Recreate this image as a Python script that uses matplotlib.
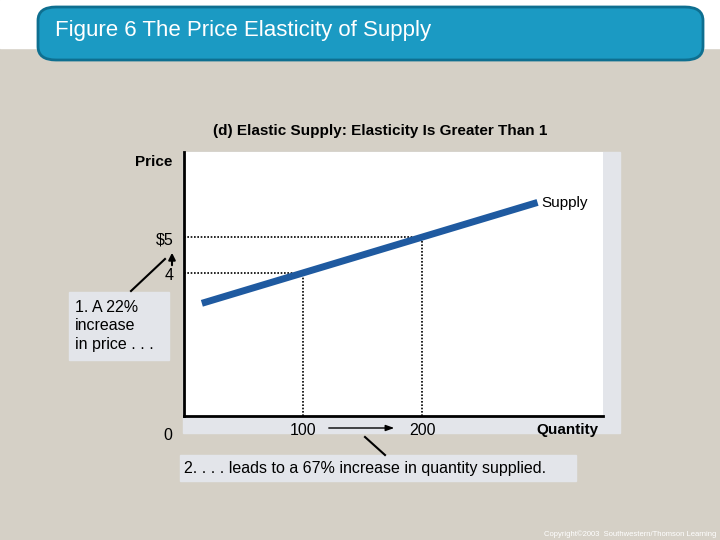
import matplotlib
matplotlib.use("Agg")
import matplotlib.pyplot as plt
from matplotlib.patches import FancyBboxPatch, Rectangle, FancyArrowPatch
from matplotlib.lines import Line2D

supply_q = [15, 100, 200, 297]
supply_p = [3.15, 4, 5, 5.97]
mark_q = [100, 200]
mark_p = [4, 5]
xtick_labels = ["100", "200"]
ytick_labels = ["4", "$5"]

plt.rcParams['font.family'] = ['Liberation Sans', 'DejaVu Sans']
W, H = 720, 540
fig = plt.figure(figsize=(7.2, 5.4), dpi=100)
fig.patch.set_facecolor('#d5d0c6')

def fx(x): return x / W
def fy(y): return 1 - y / H

# top white band
fig.patches.append(Rectangle((0, fy(48)), 1, 1 - fy(48), transform=fig.transFigure, color='white', zorder=-2))
# title bar
fig.patches.append(FancyBboxPatch((fx(38), fy(60)), fx(665), fy(7) - fy(60),
    boxstyle="round,pad=0,rounding_size=0.025", transform=fig.transFigure,
    facecolor='#1b9ac3', edgecolor='#0e6f90', linewidth=2, zorder=-1))
fig.text(fx(55), fy(31), "Figure 6 The Price Elasticity of Supply", color='white',
         fontsize=16, va='center', ha='left', zorder=2)

# plot panel backgrounds
fig.patches.append(Rectangle((fx(183), fy(433)), fx(437), fy(152) - fy(433),
    transform=fig.transFigure, color='#e3e5ea', zorder=-1))
ax = fig.add_axes([fx(184), fy(416), fx(603) - fx(184), fy(152) - fy(416)])
ax.set_zorder(3)
ax.set_facecolor('white')
ax.set_xlim(0, 352)
ax.set_ylim(0, 7.38)
for s in ['top', 'right']:
    ax.spines[s].set_visible(False)
for s in ['left', 'bottom']:
    ax.spines[s].set_linewidth(2)
ax.set_xticks([]); ax.set_yticks([])

ax.plot(supply_q, supply_p, color='#1f5aa0', linewidth=5, solid_capstyle='butt', zorder=3)
for q, p in zip(mark_q, mark_p):
    ax.plot([0, q], [p, p], color='black', linestyle=(0, (1, 1)), linewidth=1.2, zorder=2)
    ax.plot([q, q], [0, p], color='black', linestyle=(0, (1, 1)), linewidth=1.2, zorder=2)
for q, lab in zip(mark_q, xtick_labels):
    ax.text(q, -0.4, lab, ha='center', va='center', fontsize=11.5, clip_on=False)
for p, lab in zip(mark_p, ytick_labels):
    ax.text(-9, p - 0.07, lab, ha='right', va='center', fontsize=11.5, clip_on=False)
ax.text(-10, -0.55, "0", ha='right', va='center', fontsize=11.5, clip_on=False)
ax.text(348, -0.4, "Quantity", ha='right', va='center', fontsize=11, fontweight='bold', clip_on=False)
ax.text(-10, 7.1, "Price", ha='right', va='center', fontsize=11, fontweight='bold', clip_on=False)
ax.text(300, 5.95, "Supply", ha='left', va='center', fontsize=11)
ax.text(165, 7.98, "(d) Elastic Supply: Elasticity Is Greater Than 1", ha='center', va='center',
        fontsize=11, fontweight='bold', clip_on=False)

# annotation boxes
fig.patches.append(Rectangle((fx(69), fy(360)), fx(100), fy(292) - fy(360),
    transform=fig.transFigure, color='#e3e5ea', zorder=1))
fig.text(fx(75), fy(326), "1. A 22%\nincrease\nin price . . .", fontsize=11.5, va='center',
         ha='left', linespacing=1.3, zorder=2)
fig.patches.append(Rectangle((fx(180), fy(481)), fx(396), fy(455) - fy(481),
    transform=fig.transFigure, color='#e3e5ea', zorder=1))
fig.text(fx(184), fy(468), "2. . . . leads to a 67% increase in quantity supplied.", fontsize=11.5,
         va='center', ha='left', zorder=2)

# connector lines & arrows
fig.lines.append(Line2D([fx(131), fx(165)], [fy(291), fy(259)], transform=fig.transFigure, color='black', lw=1.5, zorder=4))
fig.lines.append(Line2D([fx(365), fx(385)], [fy(437), fy(455)], transform=fig.transFigure, color='black', lw=1.5, zorder=4))
fig.patches.append(FancyArrowPatch((fx(172), fy(268)), (fx(172), fy(250)), transform=fig.transFigure,
    arrowstyle='-|>,head_length=4,head_width=2', color='black', lw=1.5, zorder=4))
fig.patches.append(FancyArrowPatch((fx(326), fy(428)), (fx(397), fy(428)), transform=fig.transFigure,
    arrowstyle='-|>,head_length=5,head_width=1.8', color='black', lw=1, zorder=4))

fig.text(fx(716), fy(534), "Copyright©2003  Southwestern/Thomson Learning", fontsize=5.5,
         color='white', ha='right', va='center')

fig.savefig("out.png", dpi=100, facecolor=fig.get_facecolor())
